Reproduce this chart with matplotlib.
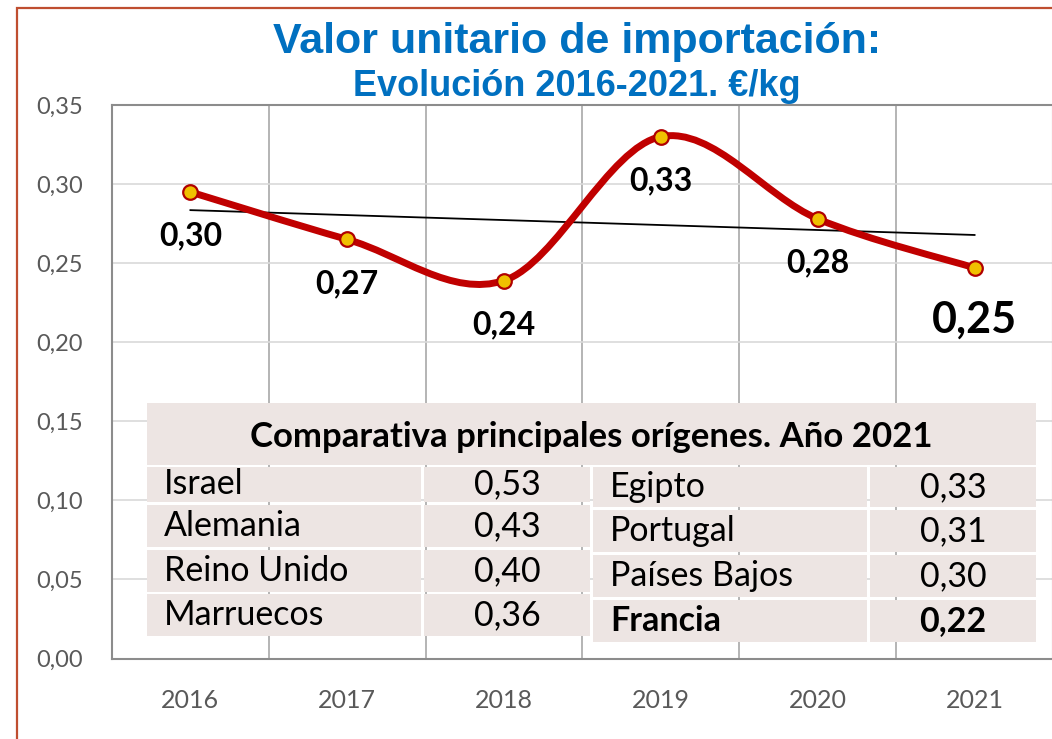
import numpy as np
import matplotlib.pyplot as plt
from matplotlib.path import Path
from matplotlib.patches import PathPatch, Rectangle

# ---- data ----
years = ["2016", "2017", "2018", "2019", "2020", "2021"]
valor = [0.295, 0.265, 0.239, 0.330, 0.278, 0.247]
etiquetas = ["0,30", "0,27", "0,24", "0,33", "0,28", "0,25"]

paises_izq = ["Israel", "Alemania", "Reino Unido", "Marruecos"]
valores_izq = ["0,53", "0,43", "0,40", "0,36"]
paises_der = ["Egipto", "Portugal", "Países Bajos", "Francia"]
valores_der = ["0,33", "0,31", "0,30", "0,22"]

W, H = 1052, 739
BLUE = "#0070C0"
RED = "#C00000"
CELL = "#EDE5E3"
TXT = "Lato"


def fx(x):
    return x / W


def fy(y):
    return 1 - y / H


def catmull_path(xs, ys):
    """Excel-style smoothed line as cubic bezier segments"""
    pts = np.column_stack([xs, ys])
    ext = np.vstack([pts[0], pts, pts[-1]])
    verts = [pts[0]]
    codes = [Path.MOVETO]
    for i in range(len(pts) - 1):
        p0, p1, p2, p3 = ext[i], ext[i + 1], ext[i + 2], ext[i + 3]
        verts += [p1 + (p2 - p0) / 6, p2 - (p3 - p1) / 6, p2]
        codes += [Path.CURVE4] * 3
    return Path(verts, codes)


fig = plt.figure(figsize=(W / 100, H / 100), dpi=100)
fig.patch.set_facecolor("white")

# outer border
fig.add_artist(Rectangle((fx(17), fy(745)), fx(1045), 737 / H, transform=fig.transFigure,
                         fill=False, edgecolor="#BF4E30", linewidth=1.6))

ax = fig.add_axes([fx(112), fy(658.5), fx(941), (658.5 - 105) / H])
x = np.arange(len(years))
ax.set_xlim(-0.5, 5.5)
ax.set_ylim(0, 0.35)

yt = np.arange(0, 0.351, 0.05)
ax.set_yticks(yt)
ax.set_yticklabels([f"{v:.2f}".replace(".", ",") for v in yt], fontsize=17, color="#595959", family=TXT)
ax.set_xticks(x)
ax.set_xticklabels(years, fontsize=18, color="#595959", family=TXT)
ax.set_xticks(np.arange(-0.5, 5.6, 0.5), minor=True)
ax.tick_params(length=0, which="both")
ax.tick_params(axis="y", pad=21)
ax.tick_params(axis="x", pad=22)

ax.grid(axis="y", color="#D9D9D9", linewidth=1.2)
ax.grid(axis="x", which="minor", color="#A8A8A8", linewidth=1.2)
ax.grid(axis="x", which="major", visible=False)
for s in ax.spines.values():
    s.set_color("#8C8C8C")
    s.set_linewidth(1.5)
ax.set_axisbelow(True)

# trend line
coef = np.polyfit(x, valor, 1)
ax.plot(x, np.polyval(coef, x), color="black", linewidth=1.3, zorder=3)

# smooth red line
ax.add_patch(PathPatch(catmull_path(x.astype(float), valor), fill=False, edgecolor=RED,
                       linewidth=5, capstyle="round", zorder=4))
ax.plot(x, valor, "o", ms=10.5, mfc="#F0C000", mec="#B00000", mew=1.6, zorder=5)

for i, (v, lab) in enumerate(zip(valor, etiquetas)):
    big = i == len(valor) - 1
    ax.annotate(lab, (i, v), xytext=(0, -52 if big else -44), textcoords="offset pixels",
                ha="center", va="center", fontsize=31 if big else 23, fontweight="bold",
                family=TXT, color="black", zorder=6)

# title
fig.text(fx(577), fy(53), "Valor unitario de importación:", ha="center", va="baseline",
         fontsize=31, fontweight="bold", color=BLUE, family="Liberation Sans")
fig.text(fx(577), fy(96), "Evolución 2016-2021. €/kg", ha="center", va="baseline",
         fontsize=26, fontweight="bold", color=BLUE, family="Liberation Sans")


# comparison table
def cell(x0, y0, x1, y1):
    fig.add_artist(Rectangle((fx(x0), fy(y1)), (x1 - x0) / W, (y1 - y0) / H,
                             transform=fig.transFigure, facecolor=CELL, edgecolor="none", zorder=10))


cell(147, 403, 1036, 465)
fig.text(fx(591), fy(437), "Comparativa principales orígenes. Año 2021", ha="center", va="center",
         fontsize=25, fontweight="bold", family=TXT, zorder=11)

rows_izq = [(467, 502), (505, 547), (550, 592), (594, 636)]
rows_der = [(467, 507), (510, 552), (555, 597), (600, 642)]
for (y0, y1), p, v in zip(rows_izq, paises_izq, valores_izq):
    cell(147, y0, 421, y1)
    cell(424, y0, 590, y1)
    fig.text(fx(164), fy((y0 + y1) / 2), p, ha="left", va="center", fontsize=24.5, family=TXT, zorder=11)
    fig.text(fx(507), fy((y0 + y1) / 2), v, ha="center", va="center", fontsize=24.5, family=TXT, zorder=11)
for (y0, y1), p, v in zip(rows_der, paises_der, valores_der):
    w = "bold" if p == "Francia" else "normal"
    cell(593, y0, 867, y1)
    cell(870, y0, 1036, y1)
    fig.text(fx(610), fy((y0 + y1) / 2), p, ha="left", va="center", fontsize=24.5, family=TXT,
             fontweight=w, zorder=11)
    fig.text(fx(953), fy((y0 + y1) / 2), v, ha="center", va="center", fontsize=24.5, family=TXT,
             fontweight=w, zorder=11)

fig.savefig("out.png", dpi=100)
